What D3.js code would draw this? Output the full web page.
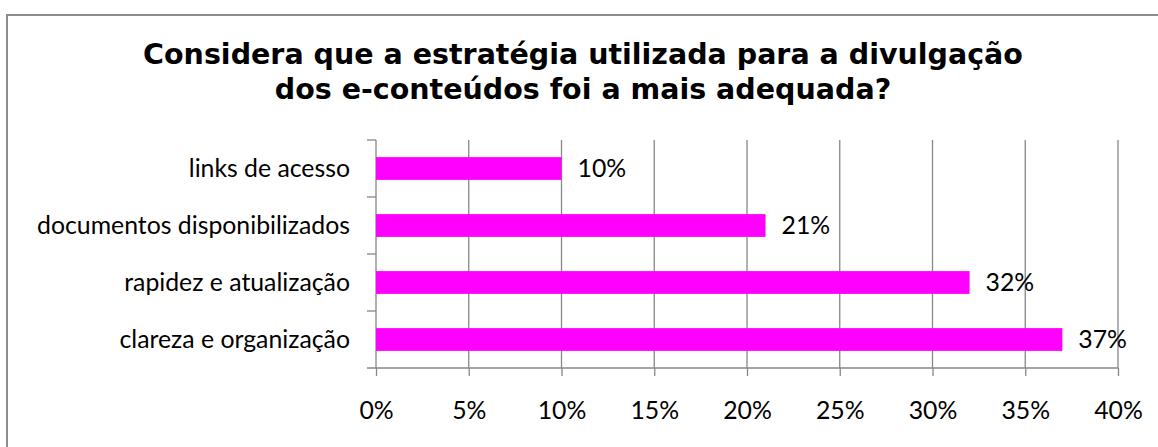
<!DOCTYPE html>
<html>
<head>
<meta charset="utf-8">
<script src="https://cdn.jsdelivr.net/npm/d3@7"></script>
<style>
  body { margin: 0; background: #fff; }
  svg { display: block; }
</style>
</head>
<body>
<div id="chart"></div>
<script>
const categories = ["links de acesso", "documentos disponibilizados", "rapidez e atualização ", "clareza e organização"];
const values = [10, 21, 32, 37];
const xTicks = [0, 5, 10, 15, 20, 25, 30, 35, 40];
const titleLines = ["Considera que a estratégia utilizada para a divulgação", "dos e-conteúdos foi a mais adequada?"];

const W = 1158, H = 447;
const margin = { top: 140, left: 376, right: 40, bottom: 79 };
const width = W - margin.left - margin.right,
  height = H - margin.top - margin.bottom;

const svg = d3.select("#chart")
  .append("svg")
  .attr("width", W)
  .attr("height", H);

// outer chart border (cropped on right/bottom)
svg.append("rect")
  .attr("x", 7)
  .attr("y", 15)
  .attr("width", W + 20)
  .attr("height", H + 20)
  .attr("fill", "none")
  .attr("stroke", "#8c8c8c")
  .attr("stroke-width", 2);

// title
svg.append("text")
  .attr("text-anchor", "middle")
  .style("font-family", "DejaVu Sans")
  .style("font-weight", "bold")
  .style("font-size", "28.5px")
  .style("fill", "#000")
  .selectAll("tspan")
  .data(titleLines)
  .enter()
  .append("tspan")
  .attr("x", 583)
  .attr("y", (d, i) => 64 + i * 35)
  .text(d => d);

const g = svg.append("g")
  .attr("transform", `translate(${margin.left},${margin.top})`);

const x = d3.scaleLinear()
  .domain([0, 40])
  .range([0, width]);

const y = d3.scaleBand()
  .domain(categories)
  .range([0, height])
  .padding(0);

const grey = "#878787";
const labelFont = "Lato";
const labelSize = "24.8px";

// vertical gridlines
g.selectAll(".grid")
  .data(xTicks.slice(1))
  .enter()
  .append("line")
  .attr("class", "grid")
  .attr("x1", d => x(d))
  .attr("x2", d => x(d))
  .attr("y1", 0)
  .attr("y2", height)
  .attr("stroke", grey)
  .attr("stroke-width", 1.3);

// x axis
const xAxis = g.append("g")
  .attr("transform", `translate(0,${height})`)
  .call(d3.axisBottom(x).tickValues(xTicks).tickFormat(d => d + "%").tickSize(8).tickSizeOuter(0));
xAxis.select(".domain").attr("stroke", grey).attr("stroke-width", 1.3)
  .attr("d", `M-9,0H${width}`);
xAxis.selectAll(".tick line").attr("stroke", grey).attr("stroke-width", 1.3);
xAxis.selectAll(".tick text")
  .attr("y", 42)
  .attr("dy", "0.35em")
  .style("font-family", labelFont)
  .style("font-size", labelSize)
  .style("fill", "#000");

// y axis with ticks at band boundaries
const yAxis = g.append("g");
yAxis.append("line")
  .attr("x1", 0).attr("x2", 0)
  .attr("y1", 0).attr("y2", height)
  .attr("stroke", grey).attr("stroke-width", 1.3);
yAxis.selectAll(".ytick")
  .data(categories)
  .enter()
  .append("line")
  .attr("x1", -9).attr("x2", 0)
  .attr("y1", d => y(d)).attr("y2", d => y(d))
  .attr("stroke", grey).attr("stroke-width", 1.3);
yAxis.selectAll(".ylabel")
  .data(categories)
  .enter()
  .append("text")
  .attr("x", -26)
  .attr("y", d => y(d) + y.bandwidth() / 2)
  .attr("dy", "0.35em")
  .attr("text-anchor", "end")
  .style("font-family", labelFont)
  .style("font-size", labelSize)
  .style("fill", "#000")
  .text(d => d);

// bars
const barH = y.bandwidth() * 0.4;
g.selectAll(".bar")
  .data(values)
  .enter()
  .append("rect")
  .attr("class", "bar")
  .attr("x", 0)
  .attr("y", (d, i) => y(categories[i]) + (y.bandwidth() - barH) / 2)
  .attr("width", d => x(d))
  .attr("height", barH)
  .attr("fill", "#ff00ff");

// value labels
g.selectAll(".val")
  .data(values)
  .enter()
  .append("text")
  .attr("x", d => x(d) + 16)
  .attr("y", (d, i) => y(categories[i]) + y.bandwidth() / 2)
  .attr("dy", "0.35em")
  .style("font-family", labelFont)
  .style("font-size", labelSize)
  .style("fill", "#000")
  .text(d => d + "%");
</script>
</body>
</html>
